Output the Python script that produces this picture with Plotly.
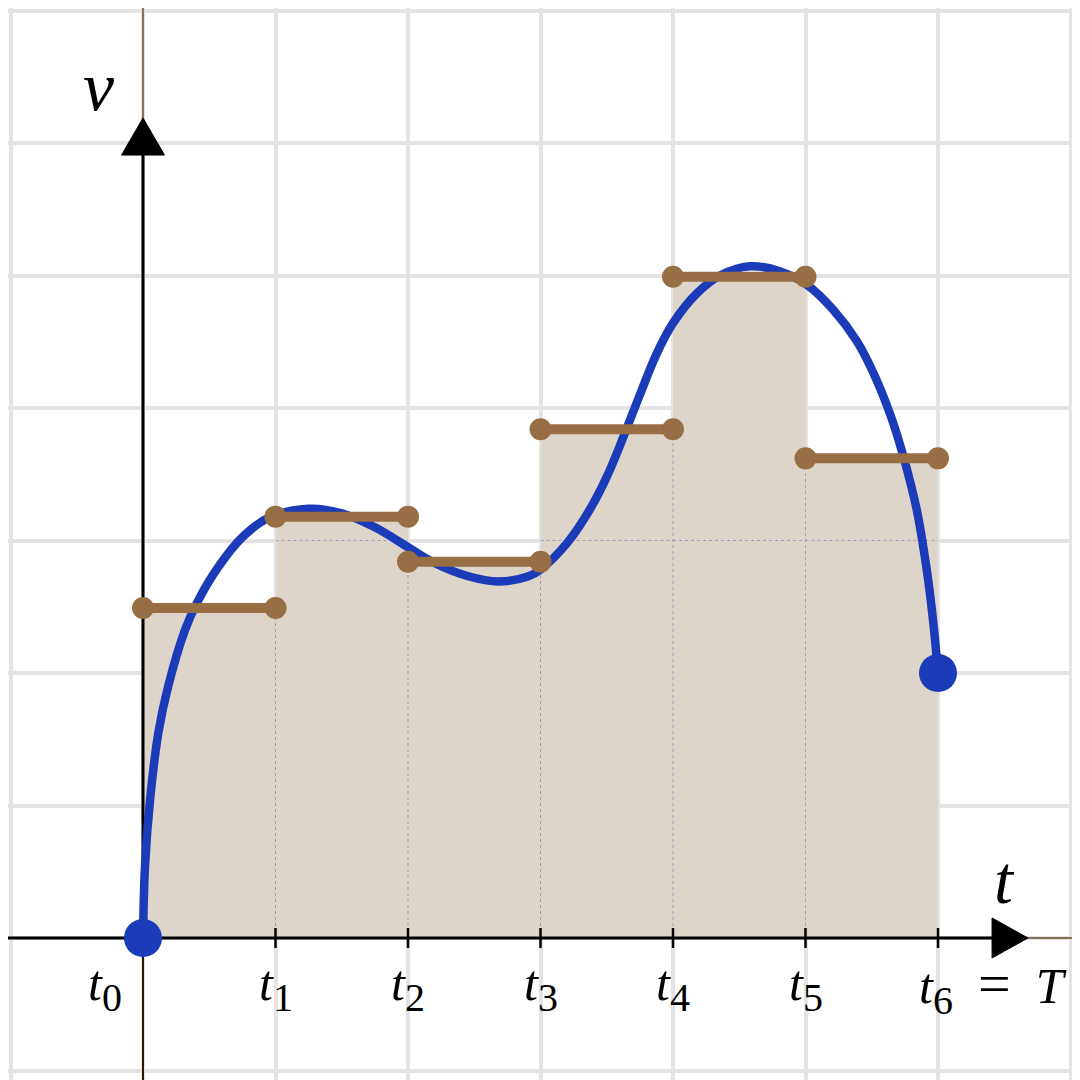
import plotly.graph_objects as go

# ---- data ----
t_edges = [0, 1, 2, 3, 4, 5, 6]
step_values = [2.49, 3.18, 2.84, 3.84, 4.99, 3.62]

curve_t = [0.0, 0.015, 0.053, 0.116, 0.19, 0.317, 0.418, 0.568, 0.745, 0.946,
           1.248, 1.50, 1.75, 2.00, 2.20, 2.455, 2.68, 2.91, 3.00, 3.20,
           3.37, 3.50, 3.625, 3.75, 3.877, 4.00, 4.18, 4.355, 4.58, 4.81,
           5.01, 5.21, 5.39, 5.51, 5.64, 5.74, 5.84, 5.915, 5.965, 6.0]
curve_v = [0.0, 0.54, 1.04, 1.55, 1.90, 2.325, 2.55, 2.80, 3.02, 3.17,
           3.24, 3.205, 3.10, 2.95, 2.83, 2.73, 2.69, 2.73, 2.78, 2.98,
           3.23, 3.48, 3.78, 4.10, 4.41, 4.64, 4.865, 5.00, 5.07, 5.03,
           4.93, 4.74, 4.50, 4.27, 3.95, 3.63, 3.23, 2.78, 2.375, 2.0]

SUB = "<sub><span style='font-size:40px'>{}</span></sub>"
tick_labels = ["<i>t</i>" + SUB.format(i) for i in range(6)] + \
              ["<i>t</i>" + SUB.format(6) + "\u2002<span style='font-size:58px'>=</span>\u2002<i>T</i>"]
x_axis_label = "<i>t</i>"
y_axis_label = "<i>v</i>"

# ---- styles ----
BLUE = "#1b3bb8"
BROWN = "#986e45"
FILL = "#ddd5ca"
GRID = "#e3e3e3"
FONT = "Liberation Serif"

fig = go.Figure()

# shaded rectangles
mids = [(t_edges[i] + t_edges[i + 1]) / 2 for i in range(len(step_values))]
fig.add_trace(go.Bar(x=mids, y=step_values, width=1, marker=dict(color=FILL, line=dict(width=0)),
                     hoverinfo="skip", showlegend=False))

# faint dotted lines inside shaded area
dx, dy = [], []
for i in range(1, len(step_values)):
    h = min(step_values[i - 1], step_values[i])
    dx += [t_edges[i], t_edges[i], None]
    dy += [0, h, None]
for i, h in enumerate(step_values):
    if h > 3:
        dx += [t_edges[i], t_edges[i + 1], None]
        dy += [3, 3, None]
fig.add_trace(go.Scatter(x=dx, y=dy, mode="lines",
                         line=dict(color="rgba(130,130,180,0.7)", width=1, dash="dot"),
                         hoverinfo="skip", showlegend=False))

# axes
fig.add_trace(go.Scatter(x=[-1.2, 6.5], y=[0, 0], mode="lines",
                         line=dict(color="black", width=3), hoverinfo="skip", showlegend=False))
fig.add_trace(go.Scatter(x=[6.6, 7.3], y=[0, 0], mode="lines",
                         line=dict(color="#6b4a2a", width=1.5), hoverinfo="skip", showlegend=False))
fig.add_trace(go.Scatter(x=[0, 0], y=[0, 6.0], mode="lines",
                         line=dict(color="black", width=3), hoverinfo="skip", showlegend=False))
fig.add_trace(go.Scatter(x=[0, 0], y=[-1.3, 0], mode="lines",
                         line=dict(color="#2a1a0a", width=2), hoverinfo="skip", showlegend=False))
fig.add_trace(go.Scatter(x=[0, 0], y=[6.1, 7.3], mode="lines",
                         line=dict(color="#6b4a2a", width=1.5), hoverinfo="skip", showlegend=False))
# arrow heads
fig.add_trace(go.Scatter(x=[6.408, 6.679, 6.408, 6.408], y=[0.151, 0, -0.151, 0.151],
                         mode="lines", fill="toself", fillcolor="black",
                         line=dict(color="black", width=1), hoverinfo="skip", showlegend=False))
fig.add_trace(go.Scatter(x=[-0.162, 0, 0.162, -0.162], y=[5.909, 6.189, 5.909, 5.909],
                         mode="lines", fill="toself", fillcolor="black",
                         line=dict(color="black", width=1), hoverinfo="skip", showlegend=False))
# tick marks
tx, ty = [], []
for t in t_edges[1:]:
    tx += [t, t, None]
    ty += [-0.075, 0.075, None]
fig.add_trace(go.Scatter(x=tx, y=ty, mode="lines", line=dict(color="black", width=2.5),
                         hoverinfo="skip", showlegend=False))

# blue curve
fig.add_trace(go.Scatter(x=curve_t, y=curve_v, mode="lines",
                         line=dict(color=BLUE, width=8.5, shape="spline", smoothing=1.0),
                         hoverinfo="skip", showlegend=False))

# step segments
sx, sy = [], []
for i, h in enumerate(step_values):
    sx += [t_edges[i], t_edges[i + 1], None]
    sy += [h, h, None]
fig.add_trace(go.Scatter(x=sx, y=sy, mode="lines+markers",
                         line=dict(color=BROWN, width=10),
                         marker=dict(color=BROWN, size=22),
                         hoverinfo="skip", showlegend=False))

# endpoints
fig.add_trace(go.Scatter(x=[curve_t[0], curve_t[-1]], y=[curve_v[0], curve_v[-1]], mode="markers",
                         marker=dict(color=BLUE, size=38), hoverinfo="skip", showlegend=False))

# labels
annots = []
for i, (t, lab) in enumerate(zip(t_edges, tick_labels)):
    if i == 0:
        annots.append(dict(x=-0.29, y=-0.37, text=lab, xanchor="center", yanchor="middle"))
    elif i == len(t_edges) - 1:
        annots.append(dict(x=5.84, y=-0.37, text=lab, xanchor="left", yanchor="middle"))
    else:
        annots.append(dict(x=t, y=-0.37, text=lab, xanchor="center", yanchor="middle"))
for a in annots:
    a.update(showarrow=False, xref="x", yref="y", font=dict(family=FONT, size=50, color="black"))
annots.append(dict(x=6.5, y=0.44, text=x_axis_label, showarrow=False, xanchor="center",
                   yanchor="middle", font=dict(family=FONT, size=68, color="black")))
annots.append(dict(x=-0.33, y=6.43, text=y_axis_label, showarrow=False, xanchor="center",
                   yanchor="middle", font=dict(family=FONT, size=70, color="black")))

# page body has an 8px margin: ranges chosen so grid lands where the reference has it
U = 132.5
fig.update_layout(
    width=1080, height=1080, margin=dict(l=0, r=0, t=0, b=0),
    plot_bgcolor="white", paper_bgcolor="white",
    annotations=annots, bargap=0,
    xaxis=dict(range=[-135 / U, (1080 - 135) / U], tick0=0, dtick=1, showgrid=True,
               gridcolor=GRID, gridwidth=4, zeroline=False, showticklabels=False,
               ticks="", fixedrange=True),
    yaxis=dict(range=[(930 - 1080) / U, 930 / U], tick0=0, dtick=1, showgrid=True,
               gridcolor=GRID, gridwidth=4, zeroline=False, showticklabels=False,
               ticks="", fixedrange=True),
)

fig.write_html("out.html")
